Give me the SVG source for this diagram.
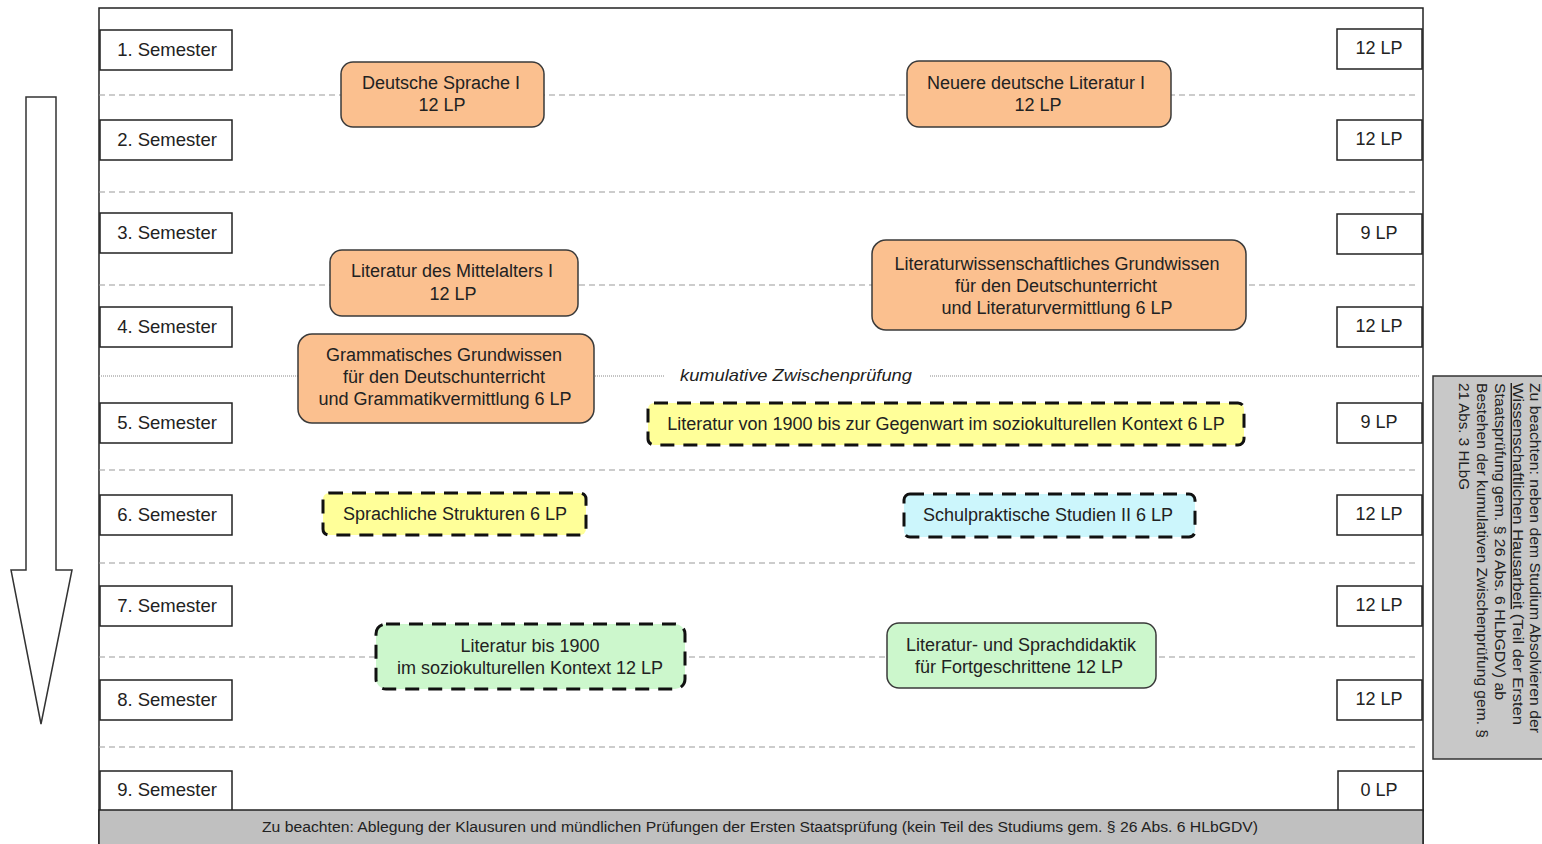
<svg xmlns="http://www.w3.org/2000/svg" width="1542" height="844" viewBox="0 0 1542 844">
<defs>
<style>
text{font-family:"Liberation Sans",Arial,sans-serif;fill:#222}
.sem{font-size:18.5px;text-anchor:middle}
.lp{font-size:18px;text-anchor:middle}
.nt{font-size:18px;text-anchor:middle}
.box{fill:#fff;stroke:#222;stroke-width:1.5}
.sep{stroke:#999;stroke-width:1.2;stroke-dasharray:6 4;fill:none}
.orange{fill:#fbc08f;stroke:#3a3a3a;stroke-width:1.5}
.green{fill:#ccf7cc;stroke:#3a3a3a;stroke-width:1.5}
.yellowd{fill:#ffff99;stroke:#111;stroke-width:3;stroke-dasharray:14 9}
.blued{fill:#ccf6fc;stroke:#111;stroke-width:3;stroke-dasharray:14 9}
.greend{fill:#ccf7cc;stroke:#111;stroke-width:3;stroke-dasharray:14 9}
.side{font-size:14.5px}
</style>
</defs>
<rect x="0" y="0" width="1542" height="844" fill="#fff"/>
<!-- frame -->
<rect x="99" y="8" width="1324" height="850" fill="#fff" stroke="#222" stroke-width="1.5"/>
<!-- arrow -->
<path d="M26,97 L56,97 L56,570 L72,570 L41,724 L11,570 L26,570 Z" fill="#fff" stroke="#333" stroke-width="1.5"/>
<!-- separators -->
<g id="connectors">
<line class="sep" x1="99" y1="95" x2="1418" y2="95"/>
<line class="sep" x1="99" y1="192" x2="1418" y2="192"/>
<line class="sep" x1="99" y1="285" x2="1418" y2="285"/>
<line x1="99" y1="376" x2="665" y2="376" stroke="#888" stroke-width="1" stroke-dasharray="1 1"/>
<line x1="930" y1="376" x2="1420" y2="376" stroke="#888" stroke-width="1" stroke-dasharray="1 1"/>
<line class="sep" x1="99" y1="470" x2="1418" y2="470"/>
<line class="sep" x1="99" y1="563" x2="1418" y2="563"/>
<line class="sep" x1="99" y1="657" x2="1418" y2="657"/>
<line class="sep" x1="99" y1="747" x2="1418" y2="747"/>
</g>
<text x="796" y="381" font-size="17" font-style="italic" text-anchor="middle" textLength="232" lengthAdjust="spacingAndGlyphs">kumulative Zwischenprüfung</text>
<!-- semester boxes -->
<g id="semesters">
<g id="sem1"><rect class="box" x="100" y="30" width="132" height="40"/><text class="sem" x="167" y="56">1. Semester</text></g>
<g id="sem2"><rect class="box" x="100" y="120" width="132" height="40"/><text class="sem" x="167" y="146">2. Semester</text></g>
<g id="sem3"><rect class="box" x="100" y="213" width="132" height="40"/><text class="sem" x="167" y="239">3. Semester</text></g>
<g id="sem4"><rect class="box" x="100" y="307" width="132" height="40"/><text class="sem" x="167" y="333">4. Semester</text></g>
<g id="sem5"><rect class="box" x="100" y="403" width="132" height="40"/><text class="sem" x="167" y="429">5. Semester</text></g>
<g id="sem6"><rect class="box" x="100" y="495" width="132" height="40"/><text class="sem" x="167" y="521">6. Semester</text></g>
<g id="sem7"><rect class="box" x="100" y="586" width="132" height="40"/><text class="sem" x="167" y="612">7. Semester</text></g>
<g id="sem8"><rect class="box" x="100" y="680" width="132" height="40"/><text class="sem" x="167" y="706">8. Semester</text></g>
<g id="sem9"><rect class="box" x="100" y="771" width="132" height="40"/><text class="sem" x="167" y="796">9. Semester</text></g>
</g>
<!-- LP boxes -->
<g id="lps">
<g id="lp1"><rect class="box" x="1337" y="29" width="85" height="40"/><text class="lp" x="1379" y="54">12 LP</text></g>
<g id="lp2"><rect class="box" x="1337" y="120" width="85" height="40"/><text class="lp" x="1379" y="145">12 LP</text></g>
<g id="lp3"><rect class="box" x="1337" y="214" width="85" height="40"/><text class="lp" x="1379" y="239">9 LP</text></g>
<g id="lp4"><rect class="box" x="1337" y="307" width="85" height="40"/><text class="lp" x="1379" y="332">12 LP</text></g>
<g id="lp5"><rect class="box" x="1337" y="403" width="85" height="40"/><text class="lp" x="1379" y="428">9 LP</text></g>
<g id="lp6"><rect class="box" x="1337" y="495" width="85" height="40"/><text class="lp" x="1379" y="520">12 LP</text></g>
<g id="lp7"><rect class="box" x="1337" y="586" width="85" height="40"/><text class="lp" x="1379" y="611">12 LP</text></g>
<g id="lp8"><rect class="box" x="1337" y="680" width="85" height="40"/><text class="lp" x="1379" y="705">12 LP</text></g>
<g id="lp9"><rect class="box" x="1338" y="771" width="85" height="40"/><text class="lp" x="1379" y="796">0 LP</text></g>
</g>
<!-- modules -->
<g id="n-deutsche-sprache"><rect class="orange" x="341" y="62" width="203" height="65" rx="12"/><text class="nt" x="441" y="89">Deutsche Sprache I</text><text class="nt" x="442" y="111">12 LP</text></g>
<g id="n-neuere-literatur"><rect class="orange" x="907" y="61" width="264" height="66" rx="12"/><text class="nt" x="1036" y="89">Neuere deutsche Literatur I</text><text class="nt" x="1038" y="111">12 LP</text></g>
<g id="n-mittelalter"><rect class="orange" x="330" y="250" width="248" height="66" rx="12"/><text class="nt" x="452" y="277">Literatur des Mittelalters I</text><text class="nt" x="453" y="300">12 LP</text></g>
<g id="n-litwiss"><rect class="orange" x="872" y="240" width="374" height="90" rx="14"/><text class="nt" x="1057" y="270">Literaturwissenschaftliches Grundwissen</text><text class="nt" x="1056" y="292">für den Deutschunterricht</text><text class="nt" x="1057" y="314">und Literaturvermittlung 6 LP</text></g>
<g id="n-grammatik"><rect class="orange" x="298" y="334" width="296" height="89" rx="14"/><text class="nt" x="444" y="361">Grammatisches Grundwissen</text><text class="nt" x="444" y="383">für den Deutschunterricht</text><text class="nt" x="445" y="405">und Grammatikvermittlung 6 LP</text></g>
<g id="n-lit1900"><rect class="yellowd" x="648" y="403" width="596" height="42" rx="6"/><text class="nt" x="946" y="430">Literatur von 1900 bis zur Gegenwart im soziokulturellen Kontext 6 LP</text></g>
<g id="n-sprachstrukturen"><rect class="yellowd" x="323" y="493" width="263" height="42" rx="6"/><text class="nt" x="455" y="520">Sprachliche Strukturen 6 LP</text></g>
<g id="n-schulpraktisch"><rect class="blued" x="904" y="494" width="291" height="43" rx="6"/><text class="nt" x="1048" y="521">Schulpraktische Studien II 6 LP</text></g>
<g id="n-litbis1900"><rect class="greend" x="376" y="624" width="309" height="65" rx="10"/><text class="nt" x="530" y="652">Literatur bis 1900</text><text class="nt" x="530" y="674">im soziokulturellen Kontext 12 LP</text></g>
<g id="n-didaktik"><rect class="green" x="887" y="623" width="269" height="65" rx="12"/><text class="nt" x="1021" y="651">Literatur- und Sprachdidaktik</text><text class="nt" x="1019" y="673">für Fortgeschrittene 12 LP</text></g>
<!-- bottom note -->
<g id="bottom-note"><rect x="99" y="810" width="1324" height="40" fill="#c0c0c0" stroke="#222" stroke-width="1.5"/><text x="760" y="832" font-size="14" text-anchor="middle" textLength="996" lengthAdjust="spacingAndGlyphs">Zu beachten: Ablegung der Klausuren und mündlichen Prüfungen der Ersten Staatsprüfung (kein Teil des Studiums gem. § 26 Abs. 6 HLbGDV)</text></g>
<!-- side note -->
<g id="side-note"><rect x="1433" y="376" width="115" height="383" fill="#c8c8c8" stroke="#333" stroke-width="1.5"/>
<text class="side" transform="translate(1530,383) rotate(90)" textLength="350" lengthAdjust="spacingAndGlyphs">Zu beachten: neben dem Studium Absolvieren der</text>
<text class="side" transform="translate(1513,383) rotate(90)" textLength="342" lengthAdjust="spacingAndGlyphs"><tspan text-decoration="underline">Wissenschaftlichen Hausarbeit</tspan> (Teil der Ersten</text>
<text class="side" transform="translate(1495,383) rotate(90)" textLength="317" lengthAdjust="spacingAndGlyphs">Staatsprüfung gem. § 26 Abs. 6 HLbGDV) ab</text>
<text class="side" transform="translate(1477,383) rotate(90)" textLength="355" lengthAdjust="spacingAndGlyphs">Bestehen der kumulativen Zwischenprüfung gem. §</text>
<text class="side" transform="translate(1459,383) rotate(90)" textLength="107" lengthAdjust="spacingAndGlyphs">21 Abs. 3 HLbG</text>
</g>
</svg>
